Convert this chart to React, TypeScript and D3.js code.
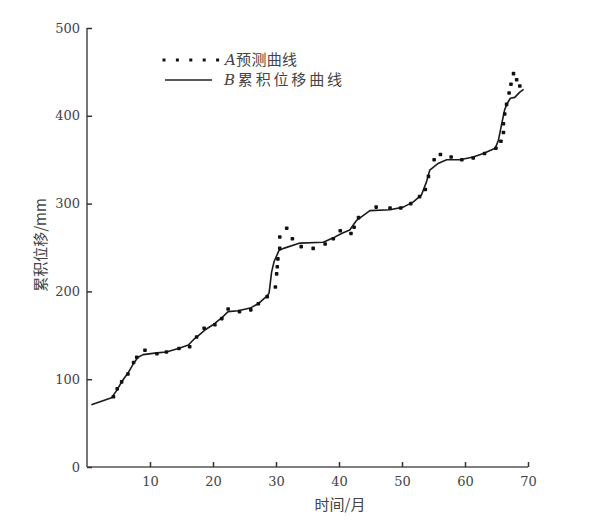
import React, { useEffect, useRef } from 'react';
import * as d3 from 'd3';

// B: cumulative displacement curve (month, mm)
const lineMonths = [0.7, 3.9, 4.7, 5.5, 6.5, 7.4, 8.1, 8.9, 11.1, 12.6, 14.5, 16.1, 16.9, 17.4, 18.7, 20.0, 21.4, 22.4, 24.0, 25.9, 27.2, 28.6, 28.9, 29.3, 29.7, 30.5, 31.2, 33.8, 37.5, 39.1, 40.4, 41.7, 42.8, 44.9, 48.1, 50.2, 51.8, 53.1, 53.9, 54.4, 55.8, 57.1, 59.2, 61.3, 62.9, 64.8, 65.3, 65.8, 66.3, 66.7, 67.2, 67.9, 68.7, 69.3];
const lineValues = [71, 79, 87, 97, 107, 118, 125, 128, 130, 131, 135, 139, 145, 148, 156, 162, 170, 177, 178, 181, 186, 195, 198, 222, 234, 247, 249, 255, 256, 261, 266, 270, 281, 292, 293, 296, 302, 310, 325, 338, 346, 350, 350, 353, 357, 363, 372, 390, 407, 414, 420, 421, 427, 430];

// A: predicted curve points (month, mm)
const dotMonths = [4.2, 4.8, 5.5, 6.5, 7.4, 7.9, 9.2, 11.1, 12.6, 14.6, 16.3, 17.4, 18.6, 20.3, 21.4, 22.4, 24.2, 26.0, 27.2, 28.6, 29.9, 30.1, 30.2, 30.3, 30.6, 30.6, 31.7, 32.6, 34.0, 35.9, 37.8, 39.1, 40.2, 41.9, 42.4, 43.1, 45.9, 48.1, 49.8, 51.4, 52.8, 53.7, 54.2, 55.1, 56.1, 57.8, 59.5, 61.3, 63.1, 64.9, 65.7, 66.1, 66.1, 66.3, 66.6, 67.0, 67.3, 67.7, 68.2, 68.7];
const dotValues = [80, 89, 97, 106, 119, 125, 133, 129, 131, 135, 137, 148, 158, 162, 169, 180, 177, 179, 186, 194, 205, 220, 228, 237, 249, 262, 272, 260, 251, 249, 254, 260, 269, 266, 273, 284, 296, 295, 295, 300, 308, 316, 331, 350, 356, 353, 350, 352, 357, 363, 371, 381, 391, 402, 413, 426, 436, 448, 441, 434];

const xTicks = [10, 20, 30, 40, 50, 60, 70];
const yTicks = [0, 100, 200, 300, 400, 500];

const App = () => {
    const ref = useRef<SVGSVGElement>(null);

    useEffect(() => {
        const svg = d3.select(ref.current);
        svg.selectAll('*').remove();

        const x = d3.scaleLinear().domain([0, 70]).range([87, 528]);
        const y = d3.scaleLinear().domain([0, 500]).range([467, 28]);
        const axisColor = '#555';
        const textColor = '#444';

        // x axis, ticks pointing inward
        const gx = svg.append('g').attr('transform', `translate(0,${y(0)})`)
            .call(d3.axisBottom(x).tickValues(xTicks).tickSizeInner(-5).tickSizeOuter(0).tickPadding(10));
        // y axis
        const gy = svg.append('g').attr('transform', `translate(${x(0)},0)`)
            .call(d3.axisLeft(y).tickValues(yTicks).tickSizeInner(-5).tickSizeOuter(0).tickPadding(7));

        [gx, gy].forEach(g => {
            g.select('.domain').attr('stroke', axisColor).attr('stroke-width', 1.6);
            g.selectAll('.tick line').attr('stroke', '#333').attr('stroke-width', 1.5);
            g.selectAll('.tick text')
                .attr('fill', textColor)
                .style('font-family', '"DejaVu Serif", serif')
                .style('font-size', '13px');
        });
        gy.select('.domain').attr('d', `M0,${y(500)}V${y(0)}`);
        gx.select('.domain').attr('d', `M${x(0)},0H${x(70)}`);

        // line B
        const pts = lineMonths.map((m, i) => [m, lineValues[i]] as [number, number]);
        const line = d3.line<[number, number]>()
            .x(d => x(d[0]))
            .y(d => y(d[1]));
        svg.append('path')
            .attr('d', line(pts))
            .attr('fill', 'none')
            .attr('stroke', '#1a1a1a')
            .attr('stroke-width', 1.6)
            .attr('stroke-linejoin', 'round');

        // dots A
        svg.append('g').selectAll('rect')
            .data(dotMonths.map((m, i) => [m, dotValues[i]]))
            .enter().append('rect')
            .attr('x', d => x(d[0]) - 1.8)
            .attr('y', d => y(d[1]) - 1.8)
            .attr('width', 3.6)
            .attr('height', 3.6)
            .attr('rx', 0.8)
            .attr('fill', '#111');

        // axis titles
        svg.append('text')
            .attr('x', 340).attr('y', 510)
            .attr('text-anchor', 'middle')
            .attr('fill', textColor)
            .style('font-family', '"Noto Sans CJK SC", sans-serif')
            .style('font-size', '15px')
            .text('时间/月');
        svg.append('text')
            .attr('transform', 'translate(46,245) rotate(-90)')
            .attr('text-anchor', 'middle')
            .attr('fill', textColor)
            .style('font-family', '"Noto Sans CJK SC", sans-serif')
            .style('font-size', '15px')
            .text('累积位移/mm');

        // legend
        const lg = svg.append('g');
        d3.range(5).forEach(i => {
            lg.append('rect')
                .attr('x', 164 + i * 13.4 - 1.5).attr('y', 60 - 1.5)
                .attr('width', 3).attr('height', 3).attr('fill', '#111');
        });
        lg.append('line')
            .attr('x1', 165).attr('x2', 212).attr('y1', 80).attr('y2', 80)
            .attr('stroke', '#222').attr('stroke-width', 1.3);
        const legendText = (ty: number, letter: string, label: string, len: number) => {
            const t = lg.append('text')
                .attr('x', ty === 60 ? 225 : 224).attr('y', ty + 5)
                .attr('fill', textColor)
                .style('font-family', '"Noto Sans CJK SC", sans-serif')
                .style('font-size', '15px')
                .attr('textLength', len)
                .attr('lengthAdjust', 'spacing');
            t.append('tspan')
                .style('font-family', '"DejaVu Serif", serif')
                .style('font-style', 'italic')
                .text(letter);
            t.append('tspan').text(label);
        };
        legendText(60, 'A', '预测曲线', 72);
        legendText(80, 'B', '累积位移曲线', 118);
    }, []);

    return (
        <svg ref={ref} width={592} height={523}
            style={{ position: 'absolute', left: 0, top: 0, background: '#fff' }} />
    );
};

export default App;
